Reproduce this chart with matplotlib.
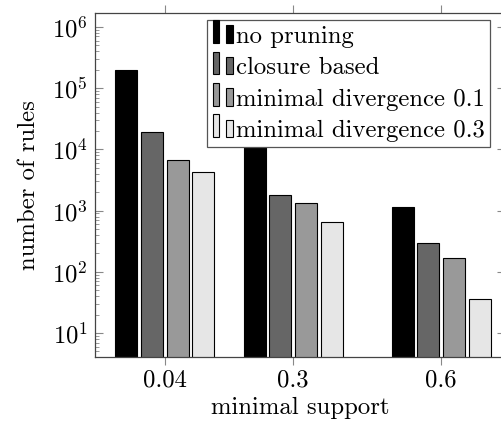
import matplotlib
matplotlib.use('Agg')
import matplotlib.pyplot as plt
import numpy as np
from matplotlib.patches import Patch, Rectangle
from matplotlib.legend_handler import HandlerBase
from matplotlib.ticker import LogLocator, NullFormatter

plt.rcParams['font.family'] = ['cmr10', 'DejaVu Serif']
plt.rcParams['mathtext.fontset'] = 'cm'
plt.rcParams['axes.formatter.use_mathtext'] = True

# data
supports = [0.04, 0.3, 0.6]
support_labels = ['0.04', '0.3', '0.6']
series_names = ['no pruning', 'closure based',
                'minimal divergence 0.1', 'minimal divergence 0.3']
no_pruning = [2.0e5, 5.0e4, 1150]
closure_based = [1.95e4, 1.8e3, 290]
min_div_01 = [6.7e3, 1.33e3, 168]
min_div_03 = [4.3e3, 660, 35]
colors = ['#000000', '#666666', '#999999', '#e6e6e6']

series = [no_pruning, closure_based, min_div_01, min_div_03]

FS = 17.8


class DoubleBar(HandlerBase):
    # pgfplots-like bar legend: two little bars side by side
    def create_artists(self, legend, orig, xd, yd, width, height, fontsize, trans):
        fc = orig.get_facecolor()
        w = width * 0.32
        big = Rectangle((-xd, -yd), w, height * 1.3, facecolor=fc,
                        edgecolor='black', lw=0.8, transform=trans)
        small = Rectangle((-xd + width * 0.68, -yd), w, height,
                          facecolor=fc, edgecolor='black', lw=0.8, transform=trans)
        return [big, small]


fig = plt.figure(figsize=(5.02, 4.21), dpi=100)
ax = fig.add_axes([95 / 502, 1 - 357 / 421, 410 / 502, 344 / 421])

step = 0.052
bw = 0.0446
x = np.array(supports)
for i, vals in enumerate(series):
    ax.bar(x + (i - 1.5) * step, vals, width=bw, bottom=1, color=colors[i],
           edgecolor='black', linewidth=0.8, zorder=2)

ax.set_yscale('log')
ax.set_ylim(4.06, 1.69e6)
ax.set_xlim(-0.1013, 0.7296)

ax.yaxis.set_major_locator(LogLocator(base=10, numticks=10))
ax.yaxis.set_minor_locator(LogLocator(base=10, subs=np.arange(2, 10), numticks=20))
ax.yaxis.set_minor_formatter(NullFormatter())

ax.set_xticks(supports)
ax.set_xticklabels(support_labels)

spine_col = '#444444'
for s in ax.spines.values():
    s.set_color(spine_col)
    s.set_linewidth(0.9)
# the right edge of the frame lies just outside the picture
ax.spines['right'].set_visible(False)

ax.tick_params(axis='x', which='both', direction='out', top=True, bottom=True,
               length=6, width=0.8, color='#888888', labelsize=FS, pad=3)
ax.tick_params(axis='y', which='major', direction='in', left=True, right=True,
               length=6, width=0.8, color='#888888', labelsize=FS, pad=5)
ax.tick_params(axis='y', which='minor', direction='in', left=True, right=False,
               length=3, width=0.6, color='#888888')

ax.set_xlabel('minimal support', fontsize=FS, labelpad=4)
ax.set_ylabel('number of rules', fontsize=FS, labelpad=9)

handles = [Patch(facecolor=c, edgecolor='black') for c in colors]
leg = ax.legend(handles, series_names, handler_map={Patch: DoubleBar()},
                loc='upper left', bbox_to_anchor=(0.2743, 0.98),
                fontsize=FS, frameon=True, fancybox=False, framealpha=1,
                edgecolor='#555555', borderpad=0.22, labelspacing=0.37,
                handlelength=0.8, handleheight=0.7, handletextpad=0.12,
                borderaxespad=0)
leg.get_frame().set_linewidth(0.9)
leg.set_zorder(5)

fig.savefig('out.png', dpi=100)
